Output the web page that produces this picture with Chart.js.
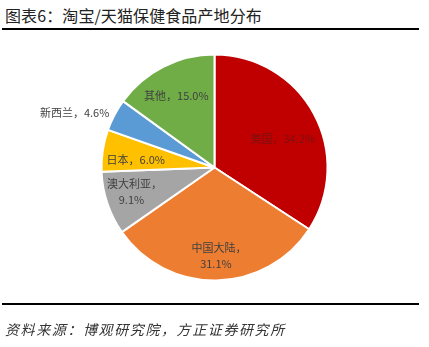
<!DOCTYPE html>
<html>
<head>
<meta charset="utf-8">
<script src="https://cdn.jsdelivr.net/npm/chart.js@4"></script>
<style>
    html, body { margin: 0; padding: 0; background: #fff; }
    body { width: 429px; height: 347px; position: relative; overflow: hidden; font-family: "Noto Sans CJK SC", sans-serif; }
    #title { position: absolute; left: 5px; top: 3px; font-size: 16px; letter-spacing: 0.1px; color: #222; }
    .rule { position: absolute; left: 2px; width: 417px; height: 2px; background: #000; }
    #source { position: absolute; left: 5px; top: 319px; font-size: 14px; letter-spacing: 1.6px; font-style: italic; color: #333; }
    #wrap { position: absolute; left: 0; top: 0; width: 429px; height: 347px; }
</style>
</head>
<body>
<div id="title">图表6：淘宝/天猫保健食品产地分布</div>
<div class="rule" style="top:28px"></div>
<div id="wrap"><canvas id="pie"></canvas></div>
<div class="rule" style="top:303px"></div>
<div id="source">资料来源：博观研究院，方正证券研究所</div>
<script>
const regions = ["美国", "中国大陆", "澳大利亚", "日本", "新西兰", "其他"];
const shares  = [34.2, 31.1, 9.1, 6.0, 4.6, 15.0];
const colors  = ["#C00000", "#ED7D31", "#A5A5A5", "#FFC000", "#5B9BD5", "#70AD47"];

// label placement: fraction of radius, angle nudge in degrees, wrap to two lines
const labelRadius = [0.655, 0.78, 0.765, 0.70, 1.33, 0.72];
const labelNudge  = [5.7, 0, 2.5, -3, -6.3, -1];
const labelWrap   = [false, true, true, false, false, false];
const labelColor  = ["#7a1010", "#404040", "#404040", "#404040", "#404040", "#404040"];

const sliceLabels = {
    id: "sliceLabels",
    afterDatasetsDraw(chart) {
        const ctx = chart.ctx;
        const arcs = chart.getDatasetMeta(0).data;
        ctx.save();
        ctx.font = '11px "Noto Sans CJK SC", sans-serif';
        ctx.textAlign = "center";
        ctx.textBaseline = "middle";
        arcs.forEach((arc, i) => {
            const p = arc.getProps(["x", "y", "startAngle", "endAngle", "outerRadius"], true);
            const a = (p.startAngle + p.endAngle) / 2 + labelNudge[i] * Math.PI / 180;
            const r = p.outerRadius * labelRadius[i];
            const x = p.x + Math.cos(a) * r;
            const y = p.y + Math.sin(a) * r;
            const pct = shares[i].toFixed(1) + "%";
            ctx.fillStyle = labelColor[i];
            if (labelWrap[i]) {
                ctx.fillText(regions[i] + "，", x + 3, y - 8);
                ctx.fillText(pct, x, y + 8);
            } else {
                ctx.fillText(regions[i] + "，" + pct, x, y);
            }
        });
        ctx.restore();
    },
};

new Chart(document.getElementById("pie"), {
    type: "pie",
    data: {
        labels: regions,
        datasets: [{
            data: shares,
            backgroundColor: colors,
            borderColor: "#ffffff",
            borderWidth: 2,
        }],
    },
    options: {
        responsive: true,
        maintainAspectRatio: false,
        animation: false,
        radius: 113,
        layout: { padding: { top: 0, bottom: 12 } },
        plugins: { legend: { display: false }, tooltip: { enabled: false } },
    },
    plugins: [sliceLabels],
});
</script>
</body>
</html>
